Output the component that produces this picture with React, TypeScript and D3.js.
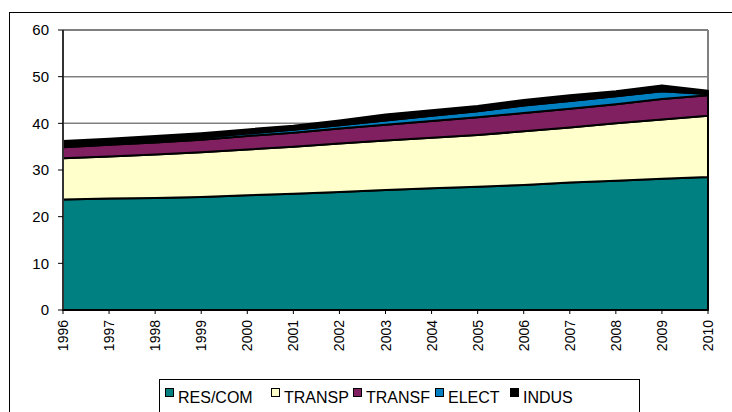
import React from "react";
import * as d3 from "d3";

const years = [1996, 1997, 1998, 1999, 2000, 2001, 2002, 2003, 2004, 2005, 2006, 2007, 2008, 2009, 2010];
const resCom = [23.7, 23.9, 24.0, 24.2, 24.6, 24.9, 25.3, 25.7, 26.1, 26.4, 26.8, 27.3, 27.7, 28.1, 28.5];
const transp = [8.8, 9.0, 9.3, 9.6, 9.8, 10.1, 10.4, 10.6, 10.8, 11.1, 11.5, 11.8, 12.3, 12.7, 13.1];
const transf = [2.4, 2.5, 2.6, 2.7, 2.9, 3.0, 3.2, 3.4, 3.6, 3.8, 3.9, 4.0, 4.1, 4.4, 4.4];
const elect = [0.3, 0.3, 0.4, 0.4, 0.5, 0.6, 0.7, 0.9, 1.1, 1.3, 1.6, 1.7, 1.7, 1.7, 0.3];
const indus = [1.0, 1.0, 1.0, 1.0, 0.9, 0.9, 1.0, 1.3, 1.2, 1.1, 1.2, 1.2, 1.1, 1.2, 0.7];
const seriesNames = ["RES/COM", "TRANSP", "TRANSF", "ELECT", "INDUS"];
const yTicks = [0, 10, 20, 30, 40, 50, 60];

const colors = ["#008080", "#FFFFCC", "#802060", "#0080C0", "#000000"];
const legendX = [165, 271, 353, 435, 510];

export default function App() {
  const W = 732, H = 412;
  const left = 63, right = 708, top = 30, bottom = 310;
  const x = d3.scaleLinear().domain([1996, 2010]).range([left, right]);
  const y = d3.scaleLinear().domain([0, 60]).range([bottom, top]);
  const allSeries = [resCom, transp, transf, elect, indus];
  const rows = years.map((yr, i) => {
    const r: any = { year: yr };
    seriesNames.forEach((n, k) => (r[n] = allSeries[k][i]));
    return r;
  });
  const stacked = d3.stack().keys(seriesNames)(rows);
  const area = d3
    .area<any>()
    .x((d: any) => x(d.data.year))
    .y0((d: any) => y(d[0]))
    .y1((d: any) => y(d[1]));
  const font = "Arial, 'Liberation Sans', sans-serif";

  return (
    <svg width={W} height={H} style={{ position: "absolute", left: 0, top: 0, background: "#fff" }} fontFamily={font}>
      <rect x={9.5} y={12.5} width={740} height={420} fill="#fff" stroke="#000" strokeWidth={1} />
      {yTicks.filter((t) => t > 0).map((t) => (
        <line key={t} x1={left} x2={right} y1={y(t)} y2={y(t)} stroke="#808080" strokeWidth={t === 60 ? 2 : 1.5} />
      ))}
      <line x1={right} x2={right} y1={top} y2={bottom} stroke="#808080" strokeWidth={2} />
      {stacked.map((s, k) => (
        <path key={k} d={area(s as any) || ""} fill={colors[k]} stroke="#000" strokeWidth={2} strokeLinejoin="round" />
      ))}
      <line x1={left} x2={left} y1={top} y2={bottom} stroke="#333" strokeWidth={2} />
      <line x1={left} x2={right} y1={bottom} y2={bottom} stroke="#000" strokeWidth={1.5} />
      {yTicks.map((t) => (
        <g key={t}>
          <line x1={left - 5} x2={left} y1={y(t)} y2={y(t)} stroke="#000" strokeWidth={1} />
          <text x={49} y={y(t)} dy="0.36em" textAnchor="end" fontSize={15} fill="#000">
            {t}
          </text>
        </g>
      ))}
      {years.map((yr) => (
        <g key={yr}>
          <line x1={x(yr)} x2={x(yr)} y1={bottom} y2={bottom + 4} stroke="#000" strokeWidth={1} />
          <text
            transform={`translate(${x(yr)},${bottom + 10}) rotate(-90)`}
            dy="0.36em"
            textAnchor="end"
            fontSize={14}
            fill="#000"
          >
            {yr}
          </text>
        </g>
      ))}
      <rect x={159.5} y={379.5} width={480} height={50} fill="#fff" stroke="#000" strokeWidth={1} />
      {seriesNames.map((n, k) => (
        <g key={n}>
          <rect x={legendX[k] + 0.5} y={388.5} width={8} height={8} fill={colors[k]} stroke="#000" strokeWidth={1} />
          <text x={legendX[k] + 13} y={403} fontSize={16} fill="#000">
            {n}
          </text>
        </g>
      ))}
    </svg>
  );
}
